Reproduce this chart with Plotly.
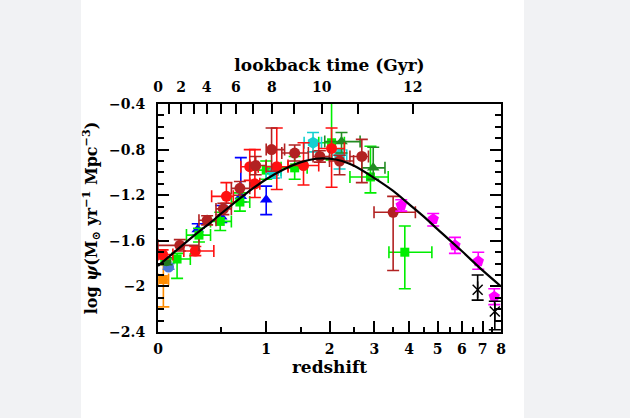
import numpy as np
import plotly.graph_objects as go

# ---------------- data ----------------
# fitted curve (log psi vs redshift)
curve_z = [0, 0.1, 0.2, 0.3, 0.4, 0.5, 0.75, 1.0, 1.25, 1.5, 1.75, 2.0, 2.25, 2.5,
           3.0, 3.5, 4.0, 4.5, 5.0, 6.0, 7.0, 8.0]
curve_logpsi = [-1.82, -1.71, -1.61, -1.52, -1.44, -1.36, -1.19, -1.06, -0.97, -0.91,
                -0.88, -0.88, -0.90, -0.94, -1.05, -1.16, -1.28, -1.39, -1.50, -1.69,
                -1.86, -2.00]

# red circles
red_z = [0.03, 0.27, 0.55, 0.80, 0.86, 1.14, 1.54, 2.04]
red_zmin = [0.0, 0.18, 0.41, 0.70, 0.80, 1.00, 1.30, 1.80]
red_zmax = [0.10, 0.43, 0.62, 0.90, 0.92, 1.30, 1.80, 2.30]
red_y = [-1.72, -1.69, -1.21, -0.95, -1.10, -0.95, -0.94, -0.79]
red_yp = [0.04, 0.04, 0.12, 0.15, 0.30, 0.34, 0.20, 0.18]
red_ym = [0.04, 0.04, 0.06, 0.12, 0.12, 0.20, 0.17, 0.34]

# dark red circles
brown_z = [0.15, 0.37, 0.52, 0.69, 0.87, 1.07, 1.40, 1.82, 2.20, 2.69, 3.51]
brown_zmin = [0.0, 0.30, 0.45, 0.60, 0.80, 1.00, 1.21, 1.70, 2.00, 2.42, 2.99]
brown_zmax = [0.30, 0.45, 0.60, 0.80, 1.00, 1.25, 1.62, 2.00, 2.50, 2.85, 4.20]
brown_y = [-1.64, -1.42, -1.32, -1.14, -0.94, -0.80, -0.83, -0.86, -0.90, -0.86, -1.35]
brown_yp = [0.05, 0.04, 0.05, 0.06, 0.08, 0.19, 0.07, 0.05, 0.05, 0.15, 0.14]
brown_ym = [0.05, 0.04, 0.05, 0.06, 0.08, 0.19, 0.07, 0.05, 0.12, 0.23, 0.51]

# bright green squares
green_z = [0.13, 0.30, 0.49, 0.69, 1.00, 1.40, 2.04, 2.90, 3.86]
green_zmin = [0.02, 0.20, 0.40, 0.60, 0.80, 1.20, 1.80, 2.42, 3.39]
green_zmax = [0.23, 0.40, 0.60, 0.80, 1.20, 1.60, 2.30, 3.37, 4.78]
green_y = [-1.76, -1.55, -1.43, -1.26, -0.98, -0.96, -0.74, -1.04, -1.70]
green_yp = [0.05, 0.06, 0.08, 0.08, 0.08, 0.10, 0.40, 0.27, 0.23]
green_ym = [0.17, 0.06, 0.08, 0.08, 0.08, 0.10, 0.15, 0.14, 0.32]

# dark green triangles
dgreen_z = [2.24, 2.97]
dgreen_zmin = [1.91, 2.69]
dgreen_zmax = [2.65, 3.28]
dgreen_y = [-0.73, -0.96]
dgreen_yp = [0.08, 0.18]
dgreen_ym = [0.10, 0.10]

# dark green circle (low z)
dgc_z = [0.056]
dgc_y = [-1.78]
dgc_yp = [0.03]
dgc_ym = [0.03]

# blue triangles
blue_z = [0.29, 0.50, 0.70, 1.00]
blue_y = [-1.50, -1.39, -1.21, -1.24]
blue_yp = [0.05, 0.10, 0.34, 0.12]
blue_ym = [0.05, 0.05, 0.05, 0.13]

# steel-blue circle
sblue_z = [0.07]
sblue_y = [-1.83]
sblue_yp = [0.03]
sblue_ym = [0.02]

# cyan
cyan_z = [1.10, 1.70, 2.20]
cyan_zmin = [1.00, 1.55, 2.05]
cyan_zmax = [1.20, 1.85, 2.35]
cyan_y = [-1.00, -0.74, -0.85]
cyan_yp = [0.05, 0.09, 0.05]
cyan_ym = [0.05, 0.08, 0.12]

# magenta pentagons
mag_z = [3.75, 4.83, 5.70, 6.78, 7.62]
mag_y = [-1.29, -1.41, -1.64, -1.78, -2.09]
mag_yp = [0.05, 0.05, 0.07, 0.08, 0.07]
mag_ym = [0.05, 0.06, 0.07, 0.07, 0.07]

# black asterisks
blk_z = [6.75, 7.65]
blk_y = [-2.03, -2.22]
blk_yp = [0.13, 0.09]
blk_ym = [0.09, 0.16]

# orange square
orng_z = [0.035]
orng_zmin = [0.0]
orng_zmax = [0.07]
orng_y = [-1.94]
orng_yp = [0.13]
orng_ym = [0.24]

# axis ticks
z_ticks = [0, 1, 2, 3, 4, 5, 6, 7, 8]
z_minor = [0.5, 1.5, 2.5, 3.5, 4.5, 5.5, 6.5, 7.5]
lookback_major = [0, 2, 4, 6, 8, 10, 12]
lookback_minor = [1, 3, 5, 7, 9, 11]
y_ticks = [-2.4, -2.0, -1.6, -1.2, -0.8, -0.4]
y_labels = ['\u22122.4', '\u22122', '\u22121.6', '\u22121.2', '\u22120.8', '\u22120.4']

# ---------------- cosmology for the top axis ----------------
H0, Om, OL = 70.0, 0.3, 0.7
tH = 977.8 / H0
t0 = 2 * tH / (3 * np.sqrt(OL)) * np.arcsinh(np.sqrt(OL / Om))


def one_plus_z_of_lookback(tl):
    age = t0 - np.asarray(tl, dtype=float)
    s = np.sinh(1.5 * np.sqrt(OL) * age / tH) / np.sqrt(OL / Om)
    return [float(v) for v in s ** (-2.0 / 3.0)]


def opz(z):
    return [1 + v for v in z]


fig = go.Figure()


def add_series(z, y, yp, ym, color, symbol, size, zmin=None, zmax=None, line_w=0, errors=True):
    ex = None
    if zmin is not None:
        ex = dict(type='data', symmetric=False,
                  array=[b - a for a, b in zip(z, zmax)],
                  arrayminus=[a - b for a, b in zip(z, zmin)],
                  color=color, thickness=1.6, width=6)
    marker = dict(color=color, symbol=symbol, size=size)
    if line_w:
        marker['line'] = dict(color=color, width=line_w)
    else:
        marker['line'] = dict(width=0)
    ey = None
    if errors:
        ey = dict(type='data', symmetric=False, array=yp, arrayminus=ym,
                  color=color, thickness=1.6, width=6)
    fig.add_trace(go.Scatter(
        x=opz(z), y=y, mode='markers', marker=marker,
        error_y=ey, error_x=ex, hoverinfo='skip', showlegend=False))


add_series(orng_z, orng_y, orng_yp, orng_ym, '#ff8c00', 'square', 9, orng_zmin, orng_zmax)
add_series(sblue_z, sblue_y, sblue_yp, sblue_ym, '#4a78d6', 'circle', 11)
add_series(dgc_z, dgc_y, dgc_yp, dgc_ym, '#1f7a1f', 'circle', 10)
add_series(blue_z, blue_y, blue_yp, blue_ym, '#0000ff', 'triangle-up', 11)
add_series(green_z, green_y, green_yp, green_ym, '#00ee00', 'square', 9, green_zmin, green_zmax)
add_series(cyan_z, cyan_y, cyan_yp, cyan_ym, '#14d0d0', 'hexagon', 12, cyan_zmin, cyan_zmax)
add_series(dgreen_z, dgreen_y, dgreen_yp, dgreen_ym, '#228b22', 'triangle-up', 11, dgreen_zmin, dgreen_zmax)
add_series(red_z, red_y, red_yp, red_ym, '#ff1010', 'circle', 11, red_zmin, red_zmax)
add_series(brown_z, brown_y, brown_yp, brown_ym, '#b22222', 'circle', 11, brown_zmin, brown_zmax)
add_series(mag_z, mag_y, mag_yp, mag_ym, '#ff00ff', 'pentagon', 12)
add_series(blk_z, blk_y, blk_yp, blk_ym, 'black', 'x-thin-open', 10, line_w=1.5)
add_series(blk_z, blk_y, blk_yp, blk_ym, 'black', 'line-ns-open', 12, line_w=1.5, errors=False)

fig.add_trace(go.Scatter(x=opz(curve_z), y=curve_logpsi, mode='lines', line_shape='spline',
                         line=dict(color='black', width=2.2), hoverinfo='skip', showlegend=False))
# anchor trace for the top axis (invisible)
fig.add_trace(go.Scatter(x=opz(curve_z), y=curve_logpsi, xaxis='x2', mode='lines',
                         line=dict(width=0), opacity=0, hoverinfo='skip', showlegend=False))

xr = [0, float(np.log10(9))]
font_family = 'DejaVu Serif'
tick_font = dict(family=font_family, size=14, weight='bold', color='black')
title_font = dict(family=font_family, size=17, weight='bold', color='black')

fig.update_layout(
    width=630, height=418,
    margin=dict(l=158, r=129, t=104, b=86),
    paper_bgcolor='#f1f2f4', plot_bgcolor='white', showlegend=False,
    font=dict(family=font_family, size=14, color='black', weight='bold'),
    shapes=[dict(type='rect', xref='paper', yref='paper', x0=-0.2245, x1=1.0671,
                 y0=-0.3772, y1=1.4561, fillcolor='white', line=dict(width=0), layer='below')],
    xaxis=dict(type='log', range=xr, tickmode='array', tickvals=opz(z_ticks),
               ticktext=[str(v) for v in z_ticks], ticks='inside', ticklen=11, tickwidth=1.5,
               tickcolor='black', showline=True, linewidth=2, linecolor='black',
               showgrid=False, zeroline=False, ticklabelstandoff=3, tickfont=tick_font,
               minor=dict(tickmode='array', tickvals=opz(z_minor), ticks='inside', ticklen=5,
                          tickwidth=1.5, tickcolor='black', showgrid=False),
               title=dict(text='redshift', font=title_font, standoff=2)),
    xaxis2=dict(type='log', range=xr, overlaying='x', side='top', anchor='y',
                tickmode='array', tickvals=one_plus_z_of_lookback(lookback_major),
                ticktext=[str(v) for v in lookback_major], ticks='inside', ticklen=10,
                tickwidth=1.5, tickcolor='black', showline=True, linewidth=2,
                linecolor='black', showgrid=False, zeroline=False, ticklabelstandoff=4,
                tickfont=tick_font,
                minor=dict(tickmode='array', tickvals=one_plus_z_of_lookback(lookback_minor),
                           ticks='inside', ticklen=10, tickwidth=1.5, tickcolor='black',
                           showgrid=False),
                title=dict(text='lookback time (Gyr)', font=title_font, standoff=3)),
    yaxis=dict(range=[-2.4, -0.4], tickmode='array', tickvals=y_ticks, ticktext=y_labels,
               ticks='inside', ticklen=11, tickwidth=1.5, tickcolor='black', mirror='ticks',
               showline=True, linewidth=2, linecolor='black', showgrid=False, zeroline=False,
               ticklabelstandoff=8, tickfont=tick_font,
               minor=dict(dtick=0.1, tick0=-2.4, ticks='inside', ticklen=6, tickwidth=1.5,
                          tickcolor='black', showgrid=False),
               title=dict(text='log <i>\u03c8</i>(M<sub>\u2299</sub> yr<sup>\u22121</sup> Mpc<sup>\u22123</sup>)',
                          font=dict(family=font_family, size=16, weight='bold', color='black'),
                          standoff=8)),
)

fig.write_html('out.html', config={'displayModeBar': False},
               post_script="document.body.style.margin='0px';")
